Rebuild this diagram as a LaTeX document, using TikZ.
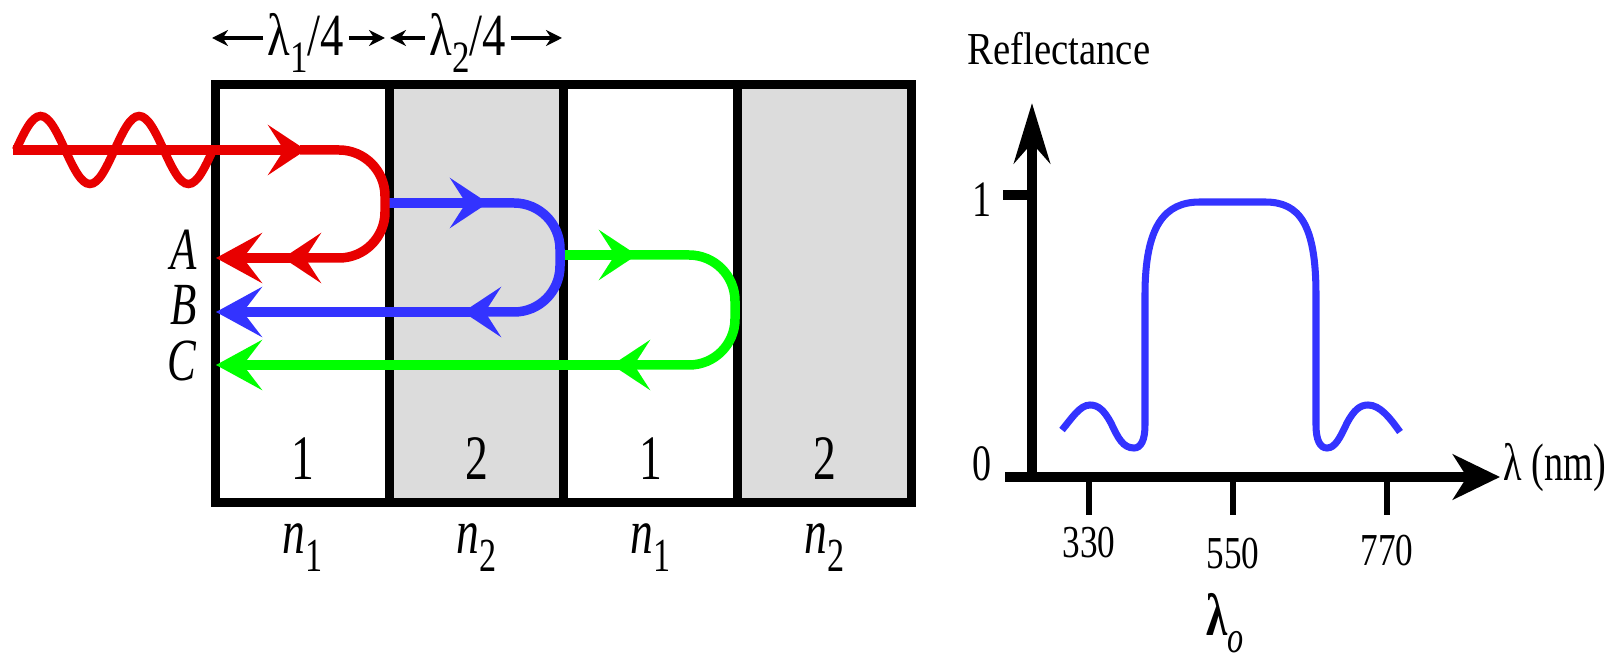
\documentclass[tikz,border=0pt]{standalone}
\usepackage{fontspec}
\usepackage{graphicx}
\setmainfont{Liberation Serif}
\usetikzlibrary{arrows.meta,positioning}
\definecolor{cellgray}{HTML}{DCDCDC}
\definecolor{rayred}{HTML}{E80000}
\definecolor{rayblue}{HTML}{3333FF}
\definecolor{raygreen}{HTML}{00FF00}
\newcommand{\lowsub}[1]{\raisebox{-0.28em}{\scalebox{0.75}{#1}}}

\begin{document}
\begin{tikzpicture}[
  x=0.01cm, y=-0.01cm,
  font=\fontsize{18}{20}\selectfont,
  cell/.style={rectangle, draw=black, line width=2.6pt, outer sep=0pt, inner sep=0pt, minimum width=1.74cm, minimum height=4.17cm},
  bigtext/.style={inner sep=0pt, xscale=0.72},
  dimtext/.style={inner sep=1.5pt, xscale=0.78, font=\fontsize{17}{19}\selectfont},
  dimarrow/.style={-{Stealth[length=1.6mm,width=1.6mm]}, line width=0.9pt},
  ray/.style={line width=2.7pt, rounded corners=4.6mm, -{Stealth[length=3.8mm,width=5mm,inset=1.6mm]}},
  endray/.style={ray, -{Stealth[length=4.6mm,width=5mm,inset=1.9mm]}},
  wave/.style={line width=2.4pt, rayred},
  axis/.style={line width=2.8pt},
  tickmark/.style={line width=1.8pt},
  chartnum/.style={inner sep=0pt, xscale=0.77, font=\fontsize{13}{15}\selectfont},
  curve/.style={line width=2pt, rayblue}
]
\useasboundingbox (0,0) rectangle (1620,661);

% quarter-wave stack
\node[cell] (c1) at (302.5,293.5) {};
\node[cell, fill=cellgray, right=0pt of c1] (c2) {};
\node[cell, right=0pt of c2] (c3) {};
\node[cell, fill=cellgray, right=0pt of c3] (c4) {};
\foreach \c/\d/\n in {c1/1/1, c2/2/2, c3/1/1, c4/2/2} {
  \node[bigtext, above=0.22cm of \c.south] (d\c) {\d};
  \node[bigtext, below=0.21cm of \c.south] (n\c) {\textit{n}\lowsub{\n}};
}

% layer thickness
\coordinate (t0) at (212,38);
\coordinate (t1a) at (385,38);
\coordinate (t1b) at (390,38);
\coordinate (t2) at (562,38);
\node[dimtext] (w1) at (306,43) {λ\lowsub{1}/4};
\node[dimtext] (w2) at (468,43) {λ\lowsub{2}/4};
\draw[dimarrow] (w1.west |- t0) -- (t0);
\draw[dimarrow] (w1.east |- t0) -- (t1a);
\draw[dimarrow] (w2.west |- t0) -- (t1b);
\draw[dimarrow] (w2.east |- t0) -- (t2);

% reflected rays
\draw[ray, raygreen] (559,255) -- (637,255);
\draw[ray, raygreen] (630,255) -- (735,255) -- (735,365) -- (612,365);
\draw[endray, raygreen] (620,365) -- (216,365);
\draw[ray, rayblue] (384,203) -- (488,203);
\draw[ray, rayblue] (480,203) -- (560,203) -- (560,312) -- (463,312);
\draw[endray, rayblue] (470,312) -- (216,312);
\draw[ray, rayred] (13,150) -- (306,150);
\draw[ray, rayred] (300,150) -- (385,150) -- (385,258) -- (283,258);
\draw[endray, rayred] (290,258) -- (216,258);
\draw[wave] (16,150) sin (40.6,116) cos (65.2,150) sin (89.9,184) cos (114.5,150)
  sin (139.1,116) cos (163.8,150) sin (188.4,184) cos (213,150);

\node[bigtext, anchor=east, font=\fontsize{17}{19}\selectfont] (labA) at (197,250) {\textit{A}};
\node[bigtext, anchor=east, font=\fontsize{17}{19}\selectfont] (labB) at (197,305) {\textit{B}};
\node[bigtext, anchor=east, font=\fontsize{17}{19}\selectfont] (labC) at (197,361) {\textit{C}};

% reflectance spectrum
\coordinate (origin) at (1032,477);
\coordinate (ytop) at (1032,103);
\coordinate (xstart) at (1005,477);
\coordinate (xend) at (1500,477);
\draw[axis, -{Stealth[length=6mm,width=3.6mm,inset=2mm]}] ([yshift=-1.4pt]origin) -- (ytop);
\draw[axis, -{Stealth[length=4.7mm,width=4.5mm,inset=1.4mm]}] (xstart) -- (xend);
\coordinate (yone) at (1032,195);
\draw[axis] (yone) -- ++(-29,0);
\foreach \x/\lab/\ly in {1089/330/543, 1233/550/554, 1387/770/551} {
  \draw[tickmark] (\x,477) -- (\x,515);
  \node[chartnum] (tl\lab) at (\x,\ly) {\lab};
}
\node[chartnum, xscale=0.97, font=\fontsize{14.5}{16}\selectfont] (one) at (982,200) {1};
\node[chartnum, xscale=0.97, font=\fontsize{14.5}{16}\selectfont] (zero) at (982,464) {0};
\node[chartnum, xscale=1.1, anchor=base west] (ylab) at (967,65) {Reflectance};
\node[chartnum, xscale=0.94, anchor=base west, font=\fontsize{15}{17}\selectfont] (xlab) at (1503,481) {λ (nm)};
\node[bigtext, anchor=base, font=\fontsize{17}{19}\selectfont] (lam0) at (1225,636) {\textbf{λ}\lowsub{\textit{o}}};

\draw[curve] (1062,430) .. controls (1072,418) and (1080,405) .. (1090,405)
  .. controls (1098,405) and (1104,410) .. (1111,423)
  .. controls (1118,438) and (1123,448) .. (1134,448)
  .. controls (1141,448) and (1145,440) .. (1145,425)
  -- (1145,295) .. controls (1145,225) and (1165,202) .. (1200,202)
  -- (1265,202) .. controls (1300,202) and (1316,225) .. (1316,295)
  -- (1316,425) .. controls (1316,440) and (1320,448) .. (1327,448)
  .. controls (1335,448) and (1340,438) .. (1347,423)
  .. controls (1354,410) and (1360,405) .. (1368,405)
  .. controls (1380,405) and (1390,418) .. (1400,432);
\end{tikzpicture}
\end{document}
